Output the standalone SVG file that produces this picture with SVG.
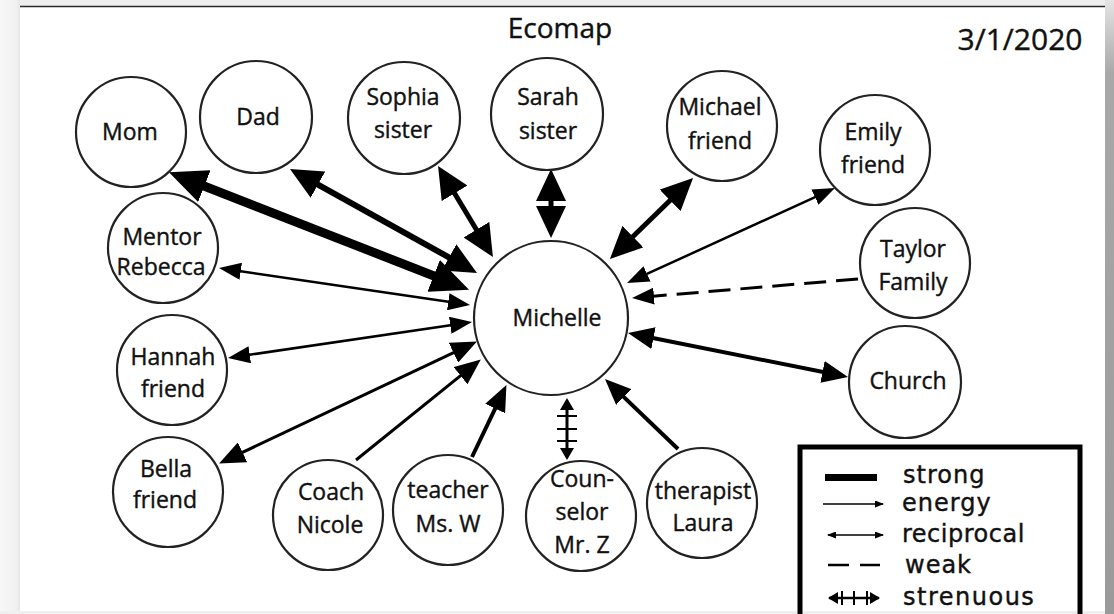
<svg xmlns="http://www.w3.org/2000/svg" width="1114" height="614" viewBox="0 0 1114 614">
<defs>
<style>
.node circle{fill:#fff;stroke:#222;stroke-width:2.2}
.t{font-family:"Open Sans","Liberation Sans",sans-serif;font-size:23px;fill:#111;stroke:#111;stroke-width:0.4;text-anchor:middle}
.lg{font-family:"DejaVu Sans","Liberation Sans",sans-serif;font-size:24px;fill:#111;stroke:#111;stroke-width:0.4}
.hd{font-family:"Open Sans","Liberation Sans",sans-serif;fill:#111;stroke:#111;stroke-width:0.4;text-anchor:middle}
.c{fill:none;stroke:#000}
</style>
<linearGradient id="rg" x1="0" y1="0" x2="0" y2="1">
<stop offset="0" stop-color="#e4e4e4"/><stop offset="0.12" stop-color="#a8a8a8"/><stop offset="1" stop-color="#9a9a9a"/>
</linearGradient>
<linearGradient id="lgr" x1="0" y1="0" x2="1" y2="0">
<stop offset="0" stop-color="#f7f7f7"/><stop offset="0.8" stop-color="#f1f1f1"/><stop offset="1" stop-color="#e6e6e6"/>
</linearGradient>
<marker id="ax" viewBox="0 0 38 34" markerWidth="38" markerHeight="34" refX="23" refY="17" orient="auto-start-reverse" markerUnits="userSpaceOnUse"><path d="M0,0 L38,17 L0,34 z"/></marker>
<marker id="ab" viewBox="0 0 32 30" markerWidth="32" markerHeight="30" refX="17" refY="15" orient="auto-start-reverse" markerUnits="userSpaceOnUse"><path d="M0,0 L32,15 L0,30 z"/></marker>
<marker id="am" viewBox="0 0 26 22" markerWidth="26" markerHeight="22" refX="16" refY="11" orient="auto-start-reverse" markerUnits="userSpaceOnUse"><path d="M0,0 L26,11 L0,22 z"/></marker>
<marker id="as" viewBox="0 0 22 17" markerWidth="22" markerHeight="17" refX="14" refY="8.5" orient="auto-start-reverse" markerUnits="userSpaceOnUse"><path d="M0,0 L22,8.5 L0,17 z"/></marker>
<marker id="ak" viewBox="0 0 12 14" markerWidth="12" markerHeight="14" refX="8" refY="7" orient="auto-start-reverse" markerUnits="userSpaceOnUse"><path d="M0,0 L12,7 L0,14 z"/></marker>
<marker id="at" viewBox="0 0 9 7" markerWidth="9" markerHeight="7" refX="8" refY="3.5" orient="auto-start-reverse" markerUnits="userSpaceOnUse"><path d="M0,0 L9,3.5 L0,7 z"/></marker>
<marker id="at2" viewBox="0 0 10 12" markerWidth="10" markerHeight="12" refX="9" refY="6" orient="auto-start-reverse" markerUnits="userSpaceOnUse"><path d="M0,0 L10,6 L0,12 z"/></marker>
</defs>
<rect x="0" y="0" width="1114" height="614" fill="#fff"/>
<rect x="0" y="0" width="1114" height="6" fill="#eeeeee"/>
<rect x="0" y="0" width="20" height="614" fill="url(#lgr)"/>
<rect x="1105" y="0" width="9" height="614" fill="url(#rg)"/>
<rect x="0" y="611" width="1105" height="3" fill="#f0f0f0"/>
<line x1="20" y1="6.5" x2="1105" y2="6.5" stroke="#2a2a2a" stroke-width="1.5"/>

<g id="title">
<text x="560" y="38" class="hd" font-size="28">Ecomap</text>
<text x="1020" y="50" class="hd" font-size="30">3/1/2020</text>
</g>

<g id="connectors">
<line class="c" x1="182.9" y1="177.8" x2="455.1" y2="284.2" stroke-width="9" marker-start="url(#ax)" marker-end="url(#ax)"/>
<line class="c" x1="303.1" y1="176.3" x2="463.9" y2="265.7" stroke-width="6" marker-start="url(#ab)" marker-end="url(#ab)"/>
<line class="c" x1="445.8" y1="178.8" x2="485.2" y2="244.2" stroke-width="5" marker-start="url(#ab)" marker-end="url(#ab)"/>
<line class="c" x1="551" y1="184" x2="551" y2="223" stroke-width="5" marker-start="url(#ab)" marker-end="url(#ab)"/>
<line class="c" x1="682.3" y1="188.5" x2="620.7" y2="248.5" stroke-width="5" marker-start="url(#ab)" marker-end="url(#ab)"/>
<line class="c" x1="827.7" y1="191.3" x2="634.3" y2="279.7" stroke-width="2.5" marker-start="url(#as)" marker-end="url(#as)"/>
<line class="c" x1="858" y1="279" x2="640" y2="297.3" stroke-width="3" stroke-dasharray="22 10" marker-end="url(#as)"/>
<line class="c" x1="637.8" y1="335" x2="838.2" y2="375" stroke-width="4" marker-start="url(#am)" marker-end="url(#am)"/>
<line class="c" x1="226.9" y1="269.2" x2="462.1" y2="303.8" stroke-width="2.5" marker-start="url(#as)" marker-end="url(#as)"/>
<line class="c" x1="235.9" y1="356.8" x2="464.1" y2="323.2" stroke-width="2.5" marker-start="url(#as)" marker-end="url(#as)"/>
<line class="c" x1="228.1" y1="459.2" x2="467.9" y2="345.8" stroke-width="3" marker-start="url(#am)" marker-end="url(#am)"/>
<line class="c" x1="356" y1="460" x2="473" y2="365.7" stroke-width="3" marker-end="url(#am)"/>
<line class="c" x1="472" y1="457" x2="502.1" y2="394.1" stroke-width="4" marker-end="url(#am)"/>
<line class="c" x1="567" y1="402" x2="567" y2="456" stroke-width="3" marker-start="url(#ak)" marker-end="url(#ak)"/>
<path class="c" d="M557,416 H577 M557,429 H577 M557,441 H577" stroke-width="2"/>
<line class="c" x1="678" y1="449" x2="612.2" y2="385.9" stroke-width="4" marker-end="url(#am)"/>
</g>

<g id="n-michelle" class="node"><circle cx="551" cy="318" r="77"/><text class="t" x="557" y="326" font-size="27">Michelle</text></g>
<g id="n-mom" class="node"><circle cx="131" cy="132" r="55"/><text class="t" x="130" y="140" font-size="25">Mom</text></g>
<g id="n-dad" class="node"><circle cx="256" cy="117" r="56"/><text class="t" x="258" y="125" font-size="25">Dad</text></g>
<g id="n-sophia" class="node"><circle cx="404" cy="118" r="56"/><text class="t" x="403" y="105">Sophia</text><text class="t" x="403" y="138">sister</text></g>
<g id="n-sarah" class="node"><circle cx="547" cy="114" r="56"/><text class="t" x="548" y="105">Sarah</text><text class="t" x="548" y="139">sister</text></g>
<g id="n-michael" class="node"><circle cx="722" cy="126" r="55"/><text class="t" x="720" y="115">Michael</text><text class="t" x="720" y="149">friend</text></g>
<g id="n-emily" class="node"><circle cx="875" cy="150" r="55"/><text class="t" x="873" y="140">Emily</text><text class="t" x="873" y="173">friend</text></g>
<g id="n-taylor" class="node"><circle cx="915" cy="263" r="55"/><text class="t" x="913" y="257">Taylor</text><text class="t" x="913" y="290">Family</text></g>
<g id="n-church" class="node"><circle cx="905" cy="382" r="56"/><text class="t" x="908" y="389" font-size="25">Church</text></g>
<g id="n-rebecca" class="node"><circle cx="163" cy="248" r="55"/><text class="t" x="162" y="245">Mentor</text><text class="t" x="161" y="275">Rebecca</text></g>
<g id="n-hannah" class="node"><circle cx="172" cy="370" r="55"/><text class="t" x="173" y="365">Hannah</text><text class="t" x="173" y="397">friend</text></g>
<g id="n-bella" class="node"><circle cx="168" cy="492" r="55"/><text class="t" x="166" y="477">Bella</text><text class="t" x="165" y="508">friend</text></g>
<g id="n-coach" class="node"><circle cx="328" cy="515" r="55"/><text class="t" x="331" y="500">Coach</text><text class="t" x="330" y="533">Nicole</text></g>
<g id="n-teacher" class="node"><circle cx="448" cy="510" r="55"/><text class="t" x="448" y="498">teacher</text><text class="t" x="448" y="532">Ms. W</text></g>
<g id="n-counselor" class="node"><circle cx="581" cy="516" r="55"/><text class="t" x="582" y="487">Coun-</text><text class="t" x="582" y="520">selor</text><text class="t" x="582" y="553">Mr. Z</text></g>
<g id="n-therapist" class="node"><circle cx="702" cy="503" r="55"/><text class="t" x="703" y="499" font-size="22">therapist</text><text class="t" x="703" y="531" font-size="22">Laura</text></g>

<g id="legend">
<rect x="800" y="447" width="280" height="200" fill="none" stroke="#000" stroke-width="5"/>
<rect x="825" y="474" width="52" height="7" fill="#000"/>
<text class="lg" x="903" y="483" letter-spacing="1">strong</text>
<line x1="823" y1="504" x2="883" y2="504" stroke="#000" stroke-width="1.5" marker-end="url(#at)"/>
<text class="lg" x="902" y="511" letter-spacing="1">energy</text>
<line x1="828" y1="535" x2="883" y2="535" stroke="#000" stroke-width="1.5" marker-start="url(#at)" marker-end="url(#at)"/>
<text class="lg" x="902" y="542" letter-spacing="0.5">reciprocal</text>
<path d="M828,565 H849 M860,565 H880" stroke="#000" stroke-width="2.5"/>
<text class="lg" x="905" y="573" letter-spacing="1">weak</text>
<line x1="829" y1="598" x2="879" y2="598" stroke="#000" stroke-width="2.5" marker-start="url(#at2)" marker-end="url(#at2)"/>
<path d="M842,591 V605 M854,591 V605 M867,591 V605" stroke="#000" stroke-width="2"/>
<text class="lg" x="903" y="605" letter-spacing="1.5">strenuous</text>
</g>
</svg>
